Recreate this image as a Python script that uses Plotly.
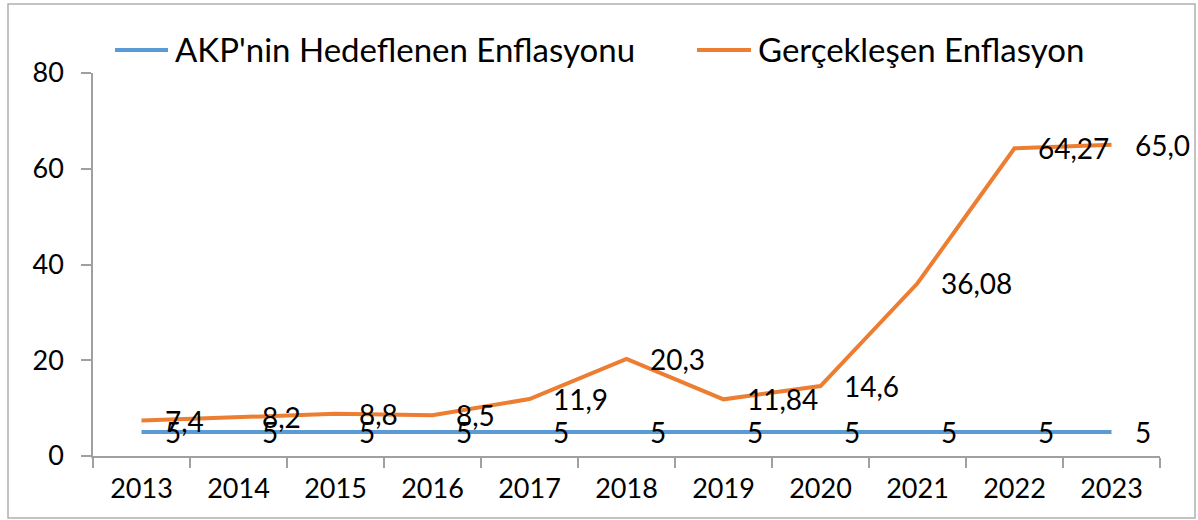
import plotly.graph_objects as go

years = ["2013", "2014", "2015", "2016", "2017", "2018", "2019", "2020", "2021", "2022", "2023"]
target = [5, 5, 5, 5, 5, 5, 5, 5, 5, 5, 5]
actual = [7.4, 8.2, 8.8, 8.5, 11.9, 20.3, 11.84, 14.6, 36.08, 64.27, 65.0]
target_labels = ["5"] * 11
actual_labels = ["7,4", "8,2", "8,8", "8,5", "11,9", "20,3", "11,84", "14,6", "36,08", "64,27", "65,0"]
series_names = ["AKP'nin Hedeflenen Enflasyonu", "Gerçekleşen Enflasyon"]
y_ticks = [0, 20, 40, 60, 80]

BLUE = "#5B9BD5"
ORANGE = "#ED7D31"
FONT = "Lato"
FS = 27
LBL_FS = 28
LEG_FS = 33
GRAY = "#A0A0A0"

L, R, T, B = 93, 38, 73, 64
W, H = 1198, 520
pw, ph = W - L - R, H - T - B


def px_x(p):
    return (p - L) / pw


def px_y(p):
    return (H - B - p) / ph


fig = go.Figure()
fig.add_trace(go.Scatter(x=years, y=target, mode="lines", name=series_names[0],
                         line=dict(color=BLUE, width=4), showlegend=False))
fig.add_trace(go.Scatter(x=years, y=actual, mode="lines", name=series_names[1],
                         line=dict(color=ORANGE, width=4), showlegend=False))

annotations = []
for i, (y, t) in enumerate(zip(target, target_labels)):
    annotations.append(dict(x=i, y=y, xref="x", yref="y", text=t, showarrow=False,
                            xanchor="left", yanchor="middle", xshift=21,
                            font=dict(family=FONT, size=LBL_FS, color="black")))
for i, (y, t) in enumerate(zip(actual, actual_labels)):
    annotations.append(dict(x=i, y=y, xref="x", yref="y", text=t, showarrow=False,
                            xanchor="left", yanchor="middle", xshift=21,
                            font=dict(family=FONT, size=LBL_FS, color="black")))

# legend (drawn manually to match the long legend line samples)
legend_items = [(115, 168, 173, BLUE, series_names[0]), (697, 751, 756, ORANGE, series_names[1])]
shapes = []
for x0, x1, tx, col, name in legend_items:
    shapes.append(dict(type="line", xref="paper", yref="paper", x0=px_x(x0), x1=px_x(x1),
                       y0=px_y(50), y1=px_y(50), line=dict(color=col, width=4)))
    annotations.append(dict(x=px_x(tx), y=px_y(49), xref="paper", yref="paper", text=name,
                            showarrow=False, xanchor="left", yanchor="middle",
                            font=dict(family=FONT, size=LEG_FS, color="black")))

shapes.append(dict(type="rect", xref="paper", yref="paper",
                   x0=px_x(8), x1=px_x(1195), y0=px_y(518), y1=px_y(4),
                   line=dict(color="#B0B0B0", width=1.5), fillcolor="rgba(0,0,0,0)", layer="below"))

fig.update_layout(
    width=W, height=H,
    margin=dict(l=L, r=R, t=T, b=B, pad=0),
    paper_bgcolor="white", plot_bgcolor="white",
    font=dict(family=FONT, size=FS, color="black"),
    showlegend=False,
    xaxis=dict(type="category", range=[-0.5, 10.5], tickson="boundaries",
               ticks="outside", ticklen=10, tickcolor=GRAY, tickwidth=1.5,
               showline=True, linecolor=GRAY, linewidth=1.5, showgrid=False,
               zeroline=False, tickfont=dict(family=FONT, size=FS), ticklabelstandoff=8),
    yaxis=dict(range=[0, 80], tickvals=y_ticks, ticks="outside", ticklen=10,
               tickcolor=GRAY, tickwidth=1.5, showline=True, linecolor=GRAY, linewidth=1.5,
               showgrid=False, zeroline=False, tickfont=dict(family=FONT, size=FS),
               ticklabelstandoff=12),
    annotations=annotations,
    shapes=shapes,
)

fig.write_html("out.html")
